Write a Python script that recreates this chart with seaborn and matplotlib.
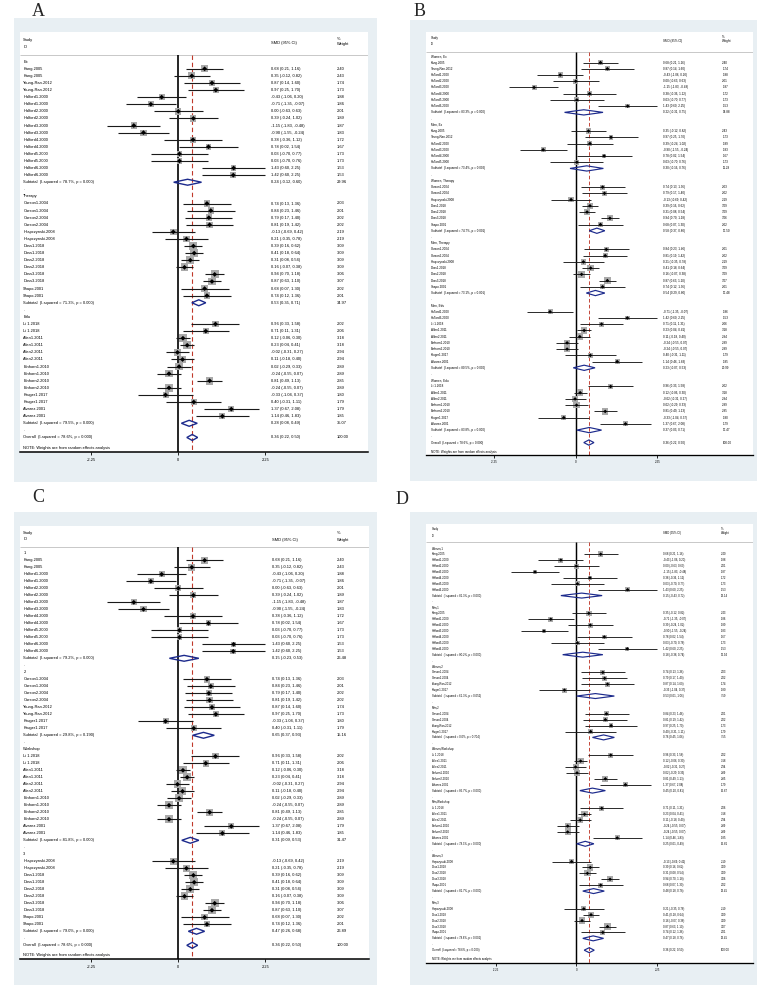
import numpy as np
import pandas as pd
import matplotlib
matplotlib.use("Agg")
import matplotlib.pyplot as plt
from matplotlib.patches import Polygon, Rectangle
import seaborn as sns

sns.set_theme(style="white")
plt.rcParams["font.family"] = ["Liberation Sans", "DejaVu Sans"]

# ── study arms: each study appears twice (arm 1 / arm 2) ───────────────────
ARM_NAME = ["Kang.2005", "Young-Ran.2012", "Halford1.2000", "Halford2.2000",
            "Halford3.2000", "Halford4.2000", "Halford5.2000", "Halford6.2000",
            "Carson1.2004", "Carson2.2004", "Hrapczynski.2008", "Doss1.2018",
            "Doss2.2018", "Doss3.2018", "Shapo.2001", "Li 1.2018", "Allen1.2011",
            "Allen2.2011", "Einhorn1.2010", "Einhorn2.2010", "Kruger1.2017",
            "Alvarez.2001"]
SMD_1 = [0.68, 0.87, -0.43, 0.00, -1.15, 0.38, 0.03, 1.43, 0.74, 0.79, -0.13,
         0.39, 0.31, 0.94, 0.68, 0.96, 0.12, -0.02, 0.02, 0.81, -0.33, 1.37]
LO_1 = [0.21, 0.14, -1.06, -0.63, -1.83, -0.36, -0.70, 0.60, 0.13, 0.17, -0.69,
        0.16, 0.08, 0.70, 0.07, 0.33, -0.06, -0.31, -0.29, 0.49, -1.04, 0.67]
HI_1 = [1.16, 1.60, 0.20, 0.63, -0.48, 1.12, 0.77, 2.25, 1.36, 1.40, 0.42,
        0.62, 0.54, 1.18, 1.30, 1.58, 0.30, 0.27, 0.33, 1.13, 0.37, 2.08]
WT_1 = [2.40, 1.74, 1.88, 2.01, 1.87, 1.72, 1.73, 1.53, 2.03, 2.02, 2.19,
        3.09, 3.09, 3.06, 2.02, 2.02, 3.18, 2.94, 2.89, 2.85, 1.80, 1.79]
SMD_2 = [0.35, 0.97, -0.71, 0.39, -0.90, 0.78, 0.03, 1.42, 0.84, 0.81, 0.21,
         0.41, 0.16, 0.87, 0.74, 0.71, 0.23, 0.11, -0.24, -0.24, 0.40, 1.14]
LO_2 = [-0.12, 0.25, -1.35, -0.24, -1.55, 0.02, -0.70, 0.60, 0.23, 0.19, -0.35,
        0.18, -0.07, 0.63, 0.12, 0.11, 0.04, -0.18, -0.55, -0.55, -0.31, 0.46]
HI_2 = [0.82, 1.70, -0.07, 1.02, -0.24, 1.54, 0.76, 2.25, 1.46, 1.42, 0.78,
        0.64, 0.38, 1.10, 1.36, 1.31, 0.41, 0.40, 0.07, 0.07, 1.11, 1.83]
WT_2 = [2.43, 1.73, 1.86, 1.89, 1.83, 1.67, 1.73, 1.53, 2.01, 2.02, 2.19,
        3.09, 3.09, 3.07, 2.01, 2.06, 3.18, 2.94, 2.89, 2.89, 1.79, 1.85]

OVERALL = (0.36, 0.22, 0.50)
OVERALL_I2 = "78.6%"
TICKS = [-2.25, 0, 2.25]
TICK_LABELS = ["-2.25", "0", "2.25"]

EX = ARM_NAME[0:8]
THERAPY = ARM_NAME[8:15]
EDU = ARM_NAME[15:22]
C1 = ["Kang.2005"] + ARM_NAME[2:8]
C2 = ["Carson1.2004", "Carson2.2004", "Young-Ran.2012", "Kruger1.2017"]
CW = ["Li 1.2018", "Allen1.2011", "Allen2.2011", "Einhorn1.2010", "Einhorn2.2010", "Alvarez.2001"]
C3 = ["Hrapczynski.2008", "Doss1.2018", "Doss2.2018", "Doss3.2018", "Shapo.2001"]


def both(names):
    return [(n, a) for n in names for a in (1, 2)]


def arm(names, a):
    return [(n, a) for n in names]


# ── panel A ───────────────────────────────────────────────────────────────
A_GROUPS = ["Ex", "Therapy", "Edu"]
A_MEMBERS = [both(EX), both(THERAPY), both(EDU)]
A_SUB_I2 = ["78.7%", "71.3%", "79.5%"]
A_SUB_P = ["0.000", "0.000", "0.000"]
A_SUB_SMD = [0.24, 0.53, 0.28]
A_SUB_LO = [-0.12, 0.35, 0.08]
A_SUB_HI = [0.60, 0.71, 0.49]
A_SUB_WT = [29.96, 34.97, 35.07]

# ── panel B ───────────────────────────────────────────────────────────────
B_GROUPS = ["Women, Ex", "Men, Ex", "Women, Therapy", "Men, Therapy", "Men, Edu", "Women, Edu"]
B_MEMBERS = [arm(EX, 1),
             arm(["Kang.2005", "Young-Ran.2012", "Halford2.2000", "Halford3.2000",
                  "Halford4.2000", "Halford5.2000"], 2),
             arm(THERAPY, 1), arm(THERAPY, 2),
             arm(["Halford1.2000", "Halford6.2000"] + EDU, 2),
             arm(EDU, 1)]
B_SUB_I2 = ["83.3%", "73.4%", "74.7%", "73.1%", "80.5%", "83.8%"]
B_SUB_P = ["0.000", "0.002", "0.001", "0.001", "0.000", "0.000"]
B_SUB_SMD = [0.22, 0.30, 0.58, 0.54, 0.23, 0.37]
B_SUB_LO = [-0.31, -0.16, 0.37, 0.29, -0.07, 0.03]
B_SUB_HI = [0.75, 0.76, 0.80, 0.80, 0.53, 0.71]
B_SUB_WT = [14.88, 11.28, 17.50, 17.48, 20.99, 17.47]

# ── panel C ───────────────────────────────────────────────────────────────
C_GROUPS = ["1", "2", "Workshop", "3"]
C_MEMBERS = [both(C1), both(C2), both(CW), both(C3)]
C_SUB_I2 = ["79.2%", "29.8%", "81.8%", "79.0%"]
C_SUB_P = ["0.000", "0.190", "0.000", "0.000"]
C_SUB_SMD = [0.15, 0.65, 0.31, 0.47]
C_SUB_LO = [-0.23, 0.37, 0.09, 0.26]
C_SUB_HI = [0.53, 0.93, 0.53, 0.68]
C_SUB_WT = [26.48, 15.16, 31.47, 26.89]

# ── panel D ───────────────────────────────────────────────────────────────
D_GROUPS = ["Women,1", "Men,1", "Women,2", "Men,2", "Women,Workshop",
            "Men,Workshop", "Women,3", "Men,3"]
D_MEMBERS = [arm(C1, 1), arm(C1, 2), arm(C2, 1), arm(C2, 2),
             arm(CW, 1), arm(CW, 2), arm(C3, 1), arm(C3, 2)]
D_SUB_I2 = ["81.3%", "80.2%", "61.3%", "0.0%", "85.7%", "78.3%", "81.7%", "78.6%"]
D_SUB_P = ["0.000", "0.000", "0.052", "0.704", "0.000", "0.000", "0.000", "0.001"]
D_SUB_SMD = [0.15, 0.18, 0.53, 0.76, 0.45, 0.25, 0.48, 0.47]
D_SUB_LO = [-0.43, -0.38, 0.01, 0.45, 0.10, 0.01, 0.18, 0.18]
D_SUB_HI = [0.72, 0.74, 1.06, 1.06, 0.81, 0.49, 0.78, 0.76]
D_SUB_WT = [13.14, 12.94, 7.59, 7.55, 15.67, 15.81, 13.45, 13.45]

arms = pd.concat([
    pd.DataFrame({"name": ARM_NAME, "arm": 1, "smd": SMD_1, "lo": LO_1, "hi": HI_1, "wt": WT_1}),
    pd.DataFrame({"name": ARM_NAME, "arm": 2, "smd": SMD_2, "lo": LO_2, "hi": HI_2, "wt": WT_2}),
]).set_index(["name", "arm"])

# ── layout (pixels in the 765x989 canvas) ─────────────────────────────────
W, H = 765, 989
BG = "#e8eff3"
NAVY = "#1c2a8c"
LAYOUT = {
    "A": dict(bg=(14, 18, 377, 482), box=(20, 32.3, 368.3, 452.3), zero=178.3, scale=38.7,
              first=61.7, pitch=7.09, sep=55.0, lab_x=23.3, ci_x=271.0, wt_x=336.7,
              head=(40.0, 46.7, 43.3, 39.0, 44.0), fs=2.9, box_k=10.5, dot_s=6.0,
              lw=0.8, letter=(38, 12)),
    "B": dict(bg=(410, 20, 757, 481), box=(426, 32.3, 752.7, 455.0), zero=575.8, scale=36.3,
              first=56.3, pitch=6.23, sep=51.7, lab_x=431.0, ci_x=663.3, wt_x=722.3,
              head=(37.5, 44.0, 41.0, 37.0, 41.0), fs=2.15, box_k=7.0, dot_s=3.5,
              lw=0.65, letter=(420, 12)),
    "C": dict(bg=(14, 511.7, 377, 985), box=(20, 526.0, 369.0, 959.3), zero=178.3, scale=38.7,
              first=553.3, pitch=7.0, sep=546.7, lab_x=23.3, ci_x=271.7, wt_x=336.7,
              head=(532.7, 539.3, 540.0, 533.0, 540.0), fs=2.9, box_k=10.5, dot_s=6.0,
              lw=0.8, letter=(38, 497)),
    "D": dict(bg=(410, 511.7, 757, 985), box=(426, 524.3, 752.7, 962.7), zero=576.3, scale=35.9,
              first=548.3, pitch=5.91, sep=541.7, lab_x=431.7, ci_x=662.7, wt_x=720.7,
              head=(529.3, 535.7, 532.7, 529.0, 532.7), fs=2.0, box_k=6.6, dot_s=3.2,
              lw=0.65, letter=(402, 500)),
}


def draw_panel(fig, key, groups, members, sub_i2, sub_p, sub_smd, sub_lo, sub_hi, sub_wt):
    L = LAYOUT[key]
    bx0, by0, bx1, by1 = L["bg"]
    fig.add_artist(Rectangle((bx0 / W, 1 - by1 / H), (bx1 - bx0) / W, (by1 - by0) / H,
                             transform=fig.transFigure, facecolor=BG, edgecolor="none", zorder=0))
    x0, y0, x1, y1 = L["box"]
    ax = fig.add_axes([x0 / W, 1 - y1 / H, (x1 - x0) / W, (y1 - y0) / H])
    ax.set_facecolor("white")

    def dx(px):
        return (px - L["zero"]) / L["scale"]

    def dy(py):
        return (py - L["first"]) / L["pitch"]

    fs = L["fs"]
    tkw = dict(fontsize=fs, ha="left", va="center", color="black")

    # rows
    study_rows, r = [], 0
    for gi, g in enumerate(groups):
        ax.text(dx(L["lab_x"]), r, g, **tkw)
        r += 1
        for name, a in members[gi]:
            study_rows.append((name, a, r))
            r += 1
        lo, hi, m = sub_lo[gi], sub_hi[gi], sub_smd[gi]
        ax.text(dx(L["lab_x"]), r, f"Subtotal  (I-squared = {sub_i2[gi]}, p = {sub_p[gi]})", **tkw)
        ax.text(dx(L["ci_x"]), r, f"{m:.2f} ({lo:.2f}, {hi:.2f})", **tkw)
        ax.text(dx(L["wt_x"]), r, f"{sub_wt[gi]:.2f}", **tkw)
        ax.add_patch(Polygon([(lo, r), (m, r - 0.42), (hi, r), (m, r + 0.42)], closed=True,
                             fill=False, edgecolor=NAVY, lw=L["lw"] + 0.2, zorder=4))
        r += 1
        ax.text(dx(L["lab_x"]), r, ".", **tkw)
        r += 1
    m, lo, hi = OVERALL
    ax.text(dx(L["lab_x"]), r, f"Overall  (I-squared = {OVERALL_I2}, p = 0.000)", **tkw)
    ax.text(dx(L["ci_x"]), r, f"{m:.2f} ({lo:.2f}, {hi:.2f})", **tkw)
    ax.text(dx(L["wt_x"]), r, "100.00", **tkw)
    ax.add_patch(Polygon([(lo, r), (m, r - 0.42), (hi, r), (m, r + 0.42)], closed=True,
                         fill=False, edgecolor=NAVY, lw=L["lw"] + 0.2, zorder=4))
    ax.text(dx(L["lab_x"]), r + 1.45, "NOTE: Weights are from random effects analysis", **tkw)

    st = pd.DataFrame(study_rows, columns=["name", "arm", "row"])
    st = st.join(arms, on=["name", "arm"])
    for _, s in st.iterrows():
        ax.text(dx(L["lab_x"]), s.row, s["name"], **tkw)
        ax.text(dx(L["ci_x"]), s.row, f"{s.smd:.2f} ({s.lo:.2f}, {s.hi:.2f})", **tkw)
        ax.text(dx(L["wt_x"]), s.row, f"{s.wt:.2f}", **tkw)

    sns.scatterplot(data=st, x="smd", y="row", size="wt", sizes=(0, L["box_k"] * 10),
                    size_norm=(0, 10), marker="s", color="#aaaaaa", edgecolor="none",
                    linewidth=0, legend=False, ax=ax, zorder=2)
    ax.hlines(st["row"], st["lo"], st["hi"], color="#1a1a1a", lw=L["lw"], zorder=3)
    sns.scatterplot(data=st, x="smd", y="row", marker="D", s=L["dot_s"], color="black",
                    edgecolor="none", linewidth=0, legend=False, ax=ax, zorder=5)

    bottom = dy(y1)
    sep = dy(L["sep"])
    ax.set_xlim(dx(x0), dx(x1))
    ax.set_ylim(bottom, dy(y0))
    ax.hlines(sep, dx(x0), dx(x1), color="#c8c8c8", lw=0.7, zorder=1)
    ax.vlines(0, sep, bottom, color="black", lw=L["lw"] + 0.4, zorder=1)
    ax.vlines(m, sep, bottom, color="#c0392b", lw=L["lw"], linestyles=(0, (4, 2.5)), zorder=1)

    # header
    hs, hi_, hsmd, hpct, hw = L["head"]
    ax.text(dx(L["lab_x"]), dy(hs), "Study", **tkw)
    ax.text(dx(L["lab_x"]), dy(hi_), "ID", **tkw)
    ax.text(dx(L["ci_x"]), dy(hsmd), "SMD (95% CI)", **tkw)
    ax.text(dx(L["wt_x"]), dy(hpct), "%", **tkw)
    ax.text(dx(L["wt_x"]), dy(hw), "Weight", **tkw)

    for s in ("top", "left", "right"):
        ax.spines[s].set_visible(False)
    ax.spines["bottom"].set_color("black")
    ax.spines["bottom"].set_linewidth(L["lw"] + 0.3)
    ax.set_xticks(TICKS)
    ax.set_xticklabels(TICK_LABELS, fontsize=fs)
    ax.tick_params(axis="x", bottom=True, direction="out", length=2.4, width=0.6,
                   pad=1.5, colors="black")
    ax.set_yticks([])
    ax.set_xlabel("")
    ax.set_ylabel("")

    lx, ly = L["letter"]
    fig.text(lx / W, 1 - ly / H, key, fontsize=13, family="Liberation Serif",
             ha="center", va="center")
    return ax


fig = plt.figure(figsize=(W / 100, H / 100), dpi=100)
fig.patch.set_facecolor("white")
draw_panel(fig, "A", A_GROUPS, A_MEMBERS, A_SUB_I2, A_SUB_P, A_SUB_SMD, A_SUB_LO, A_SUB_HI, A_SUB_WT)
draw_panel(fig, "B", B_GROUPS, B_MEMBERS, B_SUB_I2, B_SUB_P, B_SUB_SMD, B_SUB_LO, B_SUB_HI, B_SUB_WT)
draw_panel(fig, "C", C_GROUPS, C_MEMBERS, C_SUB_I2, C_SUB_P, C_SUB_SMD, C_SUB_LO, C_SUB_HI, C_SUB_WT)
draw_panel(fig, "D", D_GROUPS, D_MEMBERS, D_SUB_I2, D_SUB_P, D_SUB_SMD, D_SUB_LO, D_SUB_HI, D_SUB_WT)
fig.savefig("out.png", dpi=100)
